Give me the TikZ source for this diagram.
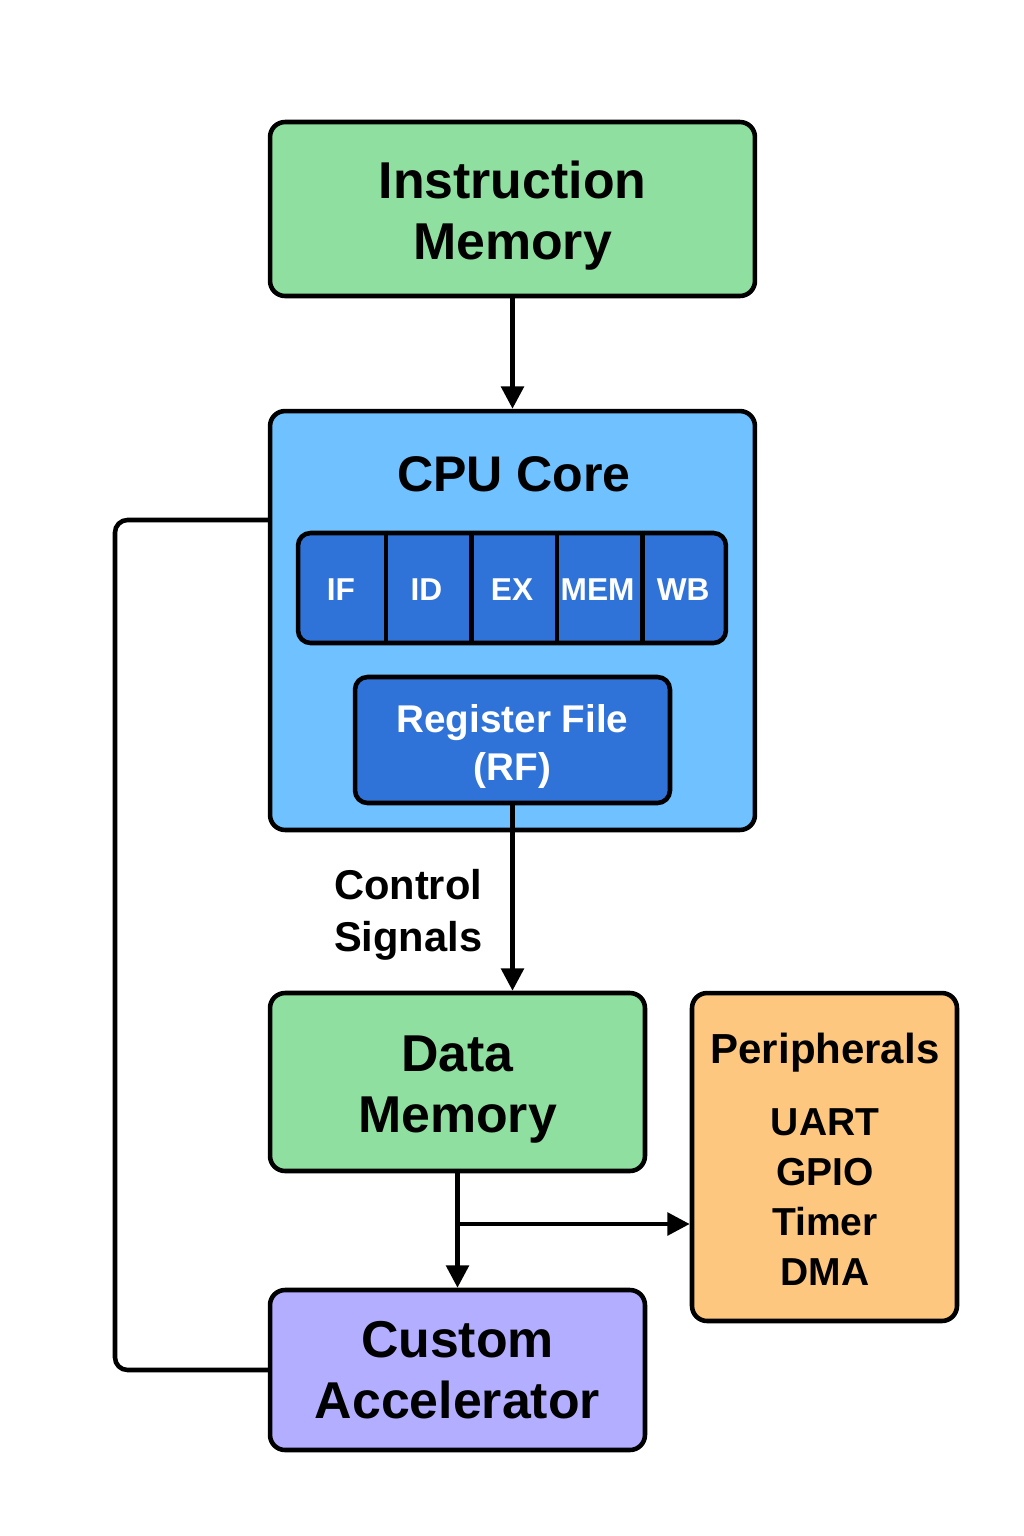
\documentclass[tikz,border=0pt]{standalone}
\usepackage{fontspec}
\setmainfont{Liberation Sans}
\definecolor{memgreen}{RGB}{143,223,160}
\definecolor{coreblue}{RGB}{112,193,255}
\definecolor{stageblue}{RGB}{47,115,217}
\definecolor{perorange}{RGB}{253,199,127}
\definecolor{accpurple}{RGB}{179,174,255}
\newcommand{\topgap}{\rule{0pt}{\dimexpr0.73em+7pt\relax}}
\usetikzlibrary{arrows.meta,positioning}

\begin{document}
\begin{tikzpicture}[x=0.02cm,y=-0.02cm,line width=2.6pt,
		box/.style={rectangle,draw,rounded corners=0.3cm,align=center,inner sep=0pt,font=\bfseries\fontsize{29.5}{34.7}\selectfont},
		mem/.style={box,fill=memgreen},
		stage/.style={rectangle,minimum width=1.712cm,minimum height=2.2cm,inner sep=0pt,text=white,font=\bfseries\fontsize{18}{20}\selectfont},
		arr/.style={-{Triangle[length=0.45cm,width=0.45cm]}}]

	\useasboundingbox (0,0) rectangle (1024,1536);

	\node[mem,minimum width=9.7cm,minimum height=3.48cm] (im) at (512.5,209) {\topgap Instruction\\Memory};
	\node[box,fill=coreblue,minimum width=9.7cm,minimum height=8.38cm] (cpu) at (512.5,620.5) {};
	\node[font=\bfseries\fontsize{28.5}{33}\selectfont] (cputitle) at (514,474) {CPU Core};

	% pipeline stages
	\node[box,fill=stageblue,rounded corners=0.25cm,minimum width=8.56cm,minimum height=2.2cm] (pipe) at (512,588) {};
	\foreach \s [count=\i] in {IF,ID,EX,MEM,WB}
		\node[stage] (s\i) at ({298+85.6*(\i-0.5)},590) {\s};
	\foreach \i in {1,...,4}
		\draw (s\i.north east |- pipe.north) -- (s\i.south east |- pipe.south);

	\node[box,fill=stageblue,rounded corners=0.25cm,text=white,minimum width=6.3cm,minimum height=2.52cm,
		font=\bfseries\fontsize{22}{27.3}\selectfont] (rf) at (512.5,740) {\topgap Register File\\(RF)};

	\node[mem,minimum width=7.5cm,minimum height=3.56cm] (dm) at (457.5,1082) {\topgap Data\\Memory};
	\node[box,fill=perorange,minimum width=5.3cm,minimum height=6.56cm] (per) at (824.5,1157) {};
	\node[font=\bfseries\fontsize{23.9}{28}\selectfont] (pertitle) at (825,1053) {Peripherals};
	\node[align=center,font=\bfseries\fontsize{22.2}{28.45}\selectfont] (peritems) at (825,1197) {UART\\GPIO\\Timer\\DMA};
	\node[box,fill=accpurple,minimum width=7.5cm,minimum height=3.2cm] (acc) at (457.5,1370) {Custom\\Accelerator};

	\node[anchor=west,align=left,font=\bfseries\fontsize{23.7}{29.5}\selectfont] (ctrl) at (326,915) {Control\\Signals};

	\coordinate (br) at (457,1224);
	\coordinate (cpuout) at (270,520);
	\coordinate (lx) at (115,520);

	\draw[arr] (im) -- (cpu);
	\draw[arr] (rf.south) -- (dm.north -| rf.south);
	\draw[arr] (dm) -- (acc);
	\draw[arr] (br) -- (br -| per.west);
	\draw[rounded corners=0.25cm] (cpuout) -- (lx) |- (acc.west);
\end{tikzpicture}
\end{document}
